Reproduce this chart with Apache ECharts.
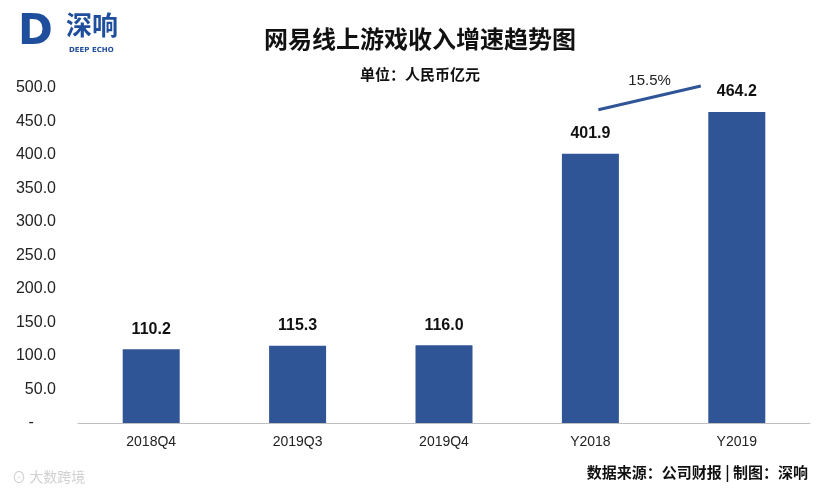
<!DOCTYPE html>
<html>
<head>
<meta charset="utf-8">
<script src="https://cdn.jsdelivr.net/npm/echarts@6/dist/echarts.min.js"></script>
<style>html,body{margin:0;padding:0;background:#fff}#c{width:830px;height:494px}</style>
</head>
<body>
<div id="c"></div>
<script>
var categories = ['2018Q4', '2019Q3', '2019Q4', 'Y2018', 'Y2019'];
var revenue = [110.2, 115.3, 116.0, 401.9, 464.2];
var growthLabel = '15.5%';
var yTicks = [0, 50, 100, 150, 200, 250, 300, 350, 400, 450, 500];

var chart = echarts.init(document.getElementById('c'));
var option = {
    animation: false,
    grid: { left: 78, right: 20, top: 88, bottom: 71 },
    title: [{
        text: '网易线上游戏收入增速趋势图',
        left: 415, top: 22, textAlign: 'center',
        textStyle: { fontFamily: 'Noto Sans CJK SC', fontSize: 24, fontWeight: 'bold', color: '#111' }
    }, {
        text: '单位：人民币亿元',
        left: 415, top: 62, textAlign: 'center',
        textStyle: { fontFamily: 'Noto Sans CJK SC', fontSize: 15, fontWeight: 'bold', color: '#111' }
    }],
    xAxis: {
        type: 'category',
        data: categories,
        axisLine: { lineStyle: { color: '#bfbfbf' } },
        axisTick: { show: false },
        axisLabel: { color: '#222', fontSize: 14, fontFamily: 'Liberation Sans', margin: 12 }
    },
    yAxis: {
        type: 'value', min: 0, max: 500, interval: 50,
        splitLine: { show: false },
        axisLine: { show: false },
        axisLabel: {
            color: '#222', fontSize: 16, fontFamily: 'Liberation Sans', margin: 22,
            formatter: function (v) { return v === yTicks[0] ? '-     ' : v.toFixed(1); }
        }
    },
    series: [{
        type: 'bar',
        data: revenue,
        barWidth: 57,
        itemStyle: { color: '#2f5597' },
        label: {
            show: true, position: 'top', distance: 12,
            fontSize: 16, fontWeight: 'bold', color: '#111', fontFamily: 'Liberation Sans',
            formatter: function (p) { return p.value.toFixed(1); }
        }
    }]
};
chart.setOption(option);

// growth annotation, placed relative to the two annual bars
var a = chart.convertToPixel({ seriesIndex: 0 }, [3, revenue[3]]);
var b = chart.convertToPixel({ seriesIndex: 0 }, [4, revenue[4]]);
var x1 = a[0] + 8, y1 = a[1] - 44, x2 = b[0] - 36, y2 = b[1] - 26;
chart.setOption({
    graphic: [{
        type: 'line', shape: { x1: x1, y1: y1, x2: x2, y2: y2 },
        style: { stroke: '#2f5597', lineWidth: 3 }
    }, {
        type: 'text', x: (x1 + x2) / 2, y: (y1 + y2) / 2 - 24,
        style: { text: growthLabel, fontSize: 15, fill: '#222', fontFamily: 'Liberation Sans', align: 'center' }
    }, {
        type: 'text', x: 18, y: 12,
        style: { text: 'D', fontSize: 42, fontWeight: 'bold', fill: '#1f4e9c', fontFamily: 'DejaVu Sans' }
    }, {
        type: 'text', x: 66, y: 12,
        style: { text: '深响', fontSize: 26, fontWeight: 'bold', fill: '#1f4e9c', fontFamily: 'Noto Sans CJK SC' }
    }, {
        type: 'text', x: 69, y: 47,
        style: { text: 'DEEP ECHO', fontSize: 7, fontWeight: 'bold', fill: '#1f4e9c', fontFamily: 'DejaVu Sans' }
    }, {
        type: 'text', right: 22, y: 465,
        style: { text: '数据来源：公司财报 | 制图：深响', fontSize: 15, fontWeight: 'bold', fill: '#111', fontFamily: 'Noto Sans CJK SC' }
    }, {
        type: 'text', x: 12, y: 470,
        style: { text: '⊙ 大数跨境', fontSize: 14, fill: '#d0d0d0', fontFamily: 'Noto Sans CJK SC' }
    }]
});
</script>
</body>
</html>
